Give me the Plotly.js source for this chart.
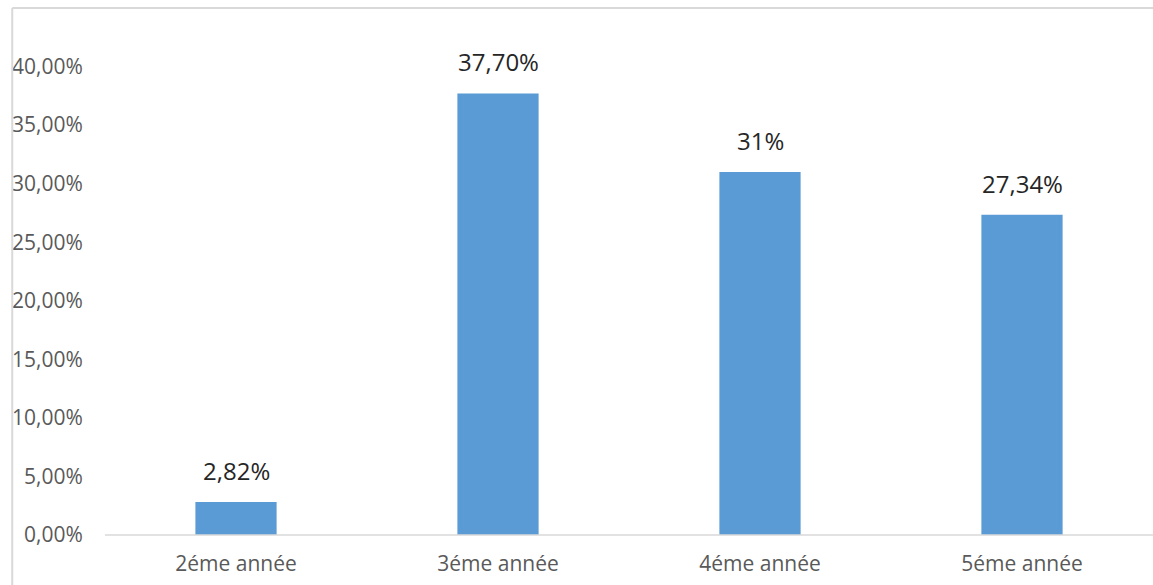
<!DOCTYPE html>
<html>
<head>
<meta charset="utf-8">
<script src="https://cdn.plot.ly/plotly-3.0.1.min.js"></script>
<style>
html,body{margin:0;padding:0;background:#fff;overflow:hidden;}
#chart{width:1153px;height:585px;}
</style>
</head>
<body>
<div id="chart"></div>
<script>
const categories = ["2éme année", "3éme année", "4éme année", "5éme année"];
const values = [0.0282, 0.3770, 0.31, 0.2734];
const labels = ["2,82%", "37,70%", "31%", "27,34%"];
const yTickVals = [0, 0.05, 0.10, 0.15, 0.20, 0.25, 0.30, 0.35, 0.40];

const trace = {
  type: "bar",
  x: categories,
  y: values,
  marker: {color: "#5B9BD5"},
  width: 0.31,
  hoverinfo: "none"
};

const annotations = categories.map((c, i) => ({
  x: c,
  y: values[i],
  xref: "x",
  yref: "y",
  text: labels[i],
  showarrow: false,
  yanchor: "bottom",
  yshift: 13,
  font: {family: "Open Sans", size: 24, color: "#262626"}
}));

const layout = {
  width: 1153,
  height: 585,
  margin: {l: 105, r: 0, t: 8, b: 50},
  paper_bgcolor: "#ffffff",
  plot_bgcolor: "#ffffff",
  separators: ", ",
  showlegend: false,
  font: {family: "Open Sans", color: "#595959"},
  xaxis: {
    showline: false,
    showgrid: false,
    zeroline: false,
    ticks: "outside",
    ticklen: 10,
    tickcolor: "rgba(0,0,0,0)",
    tickfont: {family: "Open Sans", size: 21, color: "#595959"}
  },
  yaxis: {
    range: [0, 0.45],
    tickvals: yTickVals,
    tickformat: ".2%",
    showgrid: false,
    zeroline: false,
    showline: false,
    ticks: "outside",
    ticklen: 17,
    tickcolor: "rgba(0,0,0,0)",
    tickfont: {family: "Open Sans", size: 21, color: "#595959"}
  },
  annotations: annotations,
  shapes: [
    {type: "line", xref: "paper", yref: "paper", x0: 0, x1: 1.05, y0: 0, y1: 0,
     line: {color: "#D9D9D9", width: 1.5}},
    {type: "line", xref: "paper", yref: "paper", x0: -0.0885, x1: 1.05, y0: 1.0, y1: 1.0,
     line: {color: "#D9D9D9", width: 2}},
    {type: "line", xref: "paper", yref: "paper", x0: -0.0885, x1: -0.0885, y0: -0.2, y1: 1.0,
     line: {color: "#D9D9D9", width: 2}}
  ]
};

Plotly.newPlot("chart", [trace], layout, {displayModeBar: false, staticPlot: true});
</script>
</body>
</html>
